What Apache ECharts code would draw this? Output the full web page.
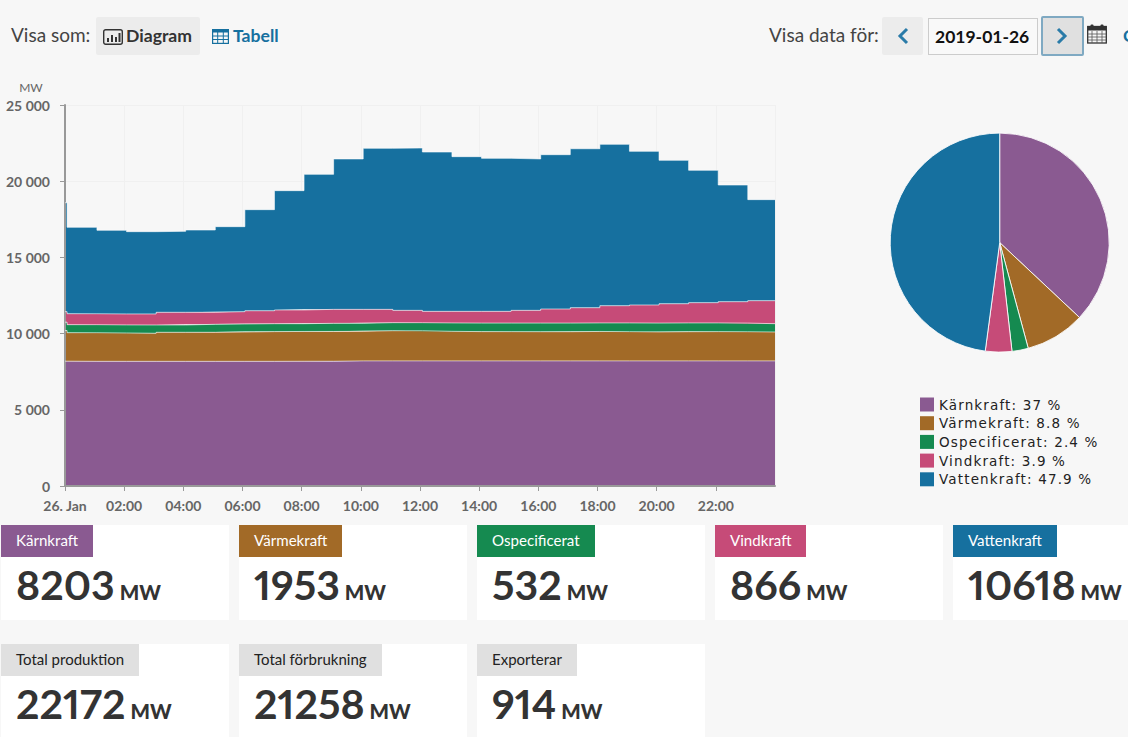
<!DOCTYPE html>
<html lang="sv">
<head>
  <meta charset="UTF-8">
  <title>Elproduktion</title>
  <script src="https://cdn.jsdelivr.net/npm/echarts@6/dist/echarts.min.js"></script>
<style>
  html, body { margin: 0; padding: 0; }
  body { width: 1128px; height: 737px; overflow: hidden; background: #f7f7f7; position: relative; font-family: Lato, sans-serif; color: #333; }
  #main { position: absolute; left: 0; top: 0; width: 1128px; height: 520px; }
  /* legendtexten är spärrad i originalet */
  #main text[style*="DejaVu"] { letter-spacing: 1.15px; }
  .abs { position: absolute; white-space: nowrap; }
  .lbl { font-size: 19px; color: #444; line-height: 24px; }
  .btn { background: #ececec; border-radius: 2px; }
  .tab { font-size: 17.6px; font-weight: 700; line-height: 24px; }
  .card { position: absolute; width: 228px; height: 95px; background: #fff; }
  .card.row2 { height: 100px; }
  .card .head { position: absolute; left: 0; top: 0; height: 32px; line-height: 31px; padding: 0 15px; color: #fff; font-size: 15.1px; white-space: nowrap; }
  .card.row2 .head { background: #e0e0e0; color: #222; font-size: 15px; }
  .card .num { position: absolute; left: 15px; top: 35px; font-size: 41px; font-weight: 700; line-height: 50px; white-space: nowrap; color: #333; font-variant-numeric: proportional-nums; font-feature-settings: "pnum"; }
  .card .num span { font-size: 20.5px; font-weight: 900; margin-left: 5px; }
</style>
</head>
<body>
<div id="main"></div>

<div class="abs lbl" style="left:11px;top:23px">Visa som:</div>
<div class="abs btn" style="left:96px;top:17px;width:104px;height:38px"></div>
<svg class="abs" style="left:103px;top:29px" width="20" height="16" viewBox="0 0 20 16">
  <rect x="0.7" y="0.7" width="18.6" height="14.6" rx="2" fill="none" stroke="#333" stroke-width="1.4"/>
  <path d="M4 13V9h2v4zM8 13V6h2v7zM12 13V8h2v5zM15.500 13V4h2v9z" fill="#333"/>
</svg>
<div class="abs tab" style="left:126px;top:24px;color:#333">Diagram</div>
<svg class="abs" style="left:212px;top:29px" width="17" height="15" viewBox="0 0 17 15">
  <rect x="0.6" y="0.6" width="15.800" height="13.800" fill="none" stroke="#16709f" stroke-width="1.2"/>
  <rect x="0" y="0" width="17" height="3.500" fill="#16709f"/>
  <path d="M0 7h17M0 10.500h17M5.700 0v15M11.300 0v15" stroke="#16709f" stroke-width="1"/>
</svg>
<div class="abs tab" style="left:233px;top:24px;color:#16709f">Tabell</div>

<div class="abs lbl" style="left:769px;top:23px">Visa data för:</div>
<div class="abs btn" style="left:882px;top:17px;width:41px;height:38px"></div>
<svg class="abs" style="left:897px;top:27px" width="12" height="18" viewBox="0 0 12 18">
  <path d="M10 2L3 9l7 7" fill="none" stroke="#2a7ba8" stroke-width="3"/>
</svg>
<div class="abs" style="left:928px;top:18px;width:102px;height:35px;padding-left:6px;border:1px solid #ccc;background:#f9f9f9;font-size:17.5px;font-weight:700;line-height:36px;color:#111">2019-01-26</div>
<div class="abs" style="left:1041px;top:16px;width:39px;height:36px;background:#e0e0e0;border:2px solid #7fa9c2;border-radius:2px"></div>
<svg class="abs" style="left:1056px;top:27px" width="12" height="18" viewBox="0 0 12 18">
  <path d="M2 2l7 7-7 7" fill="none" stroke="#2a7ba8" stroke-width="3"/>
</svg>
<svg class="abs" style="left:1087px;top:24px" width="21" height="20" viewBox="0 0 21 20">
  <rect x="0.700" y="2.500" width="18.600" height="16.500" fill="none" stroke="#333" stroke-width="1.300"/>
  <rect x="0.700" y="2.500" width="18.600" height="4" fill="#333"/>
  <rect x="3.500" y="0.500" width="3" height="4" rx="1" fill="#333"/>
  <rect x="13.500" y="0.500" width="3" height="4" rx="1" fill="#333"/>
  <path d="M1 10h18M1 13h18M1 16h18M5 7v12M10 7v12M15 7v12" stroke="#555" stroke-width="0.800"/>
</svg>
<div class="abs tab" style="left:1123px;top:24px;color:#16709f">C</div>

<div id="cards"></div>

<script>
  // tid i timmar från midnatt, värdet gäller fram till nästa tidpunkt
  const times = [0, 0.07, 1.08, 2.08, 3.08, 4.08, 5.08, 6.08, 7.08, 8.08, 9.08, 10.08, 11.08, 12.08, 13.08, 14.08, 15.08, 16.08, 17.08, 18.08, 19.08, 20.08, 21.08, 22.08, 23.08, 24]
  const karnkraft = [8190, 8180, 8180, 8180, 8180, 8180, 8180, 8180, 8185, 8185, 8210, 8210, 8210, 8210, 8210, 8210, 8210, 8210, 8210, 8210, 8210, 8210, 8210, 8210, 8210, 8210]
  const varmekraft = [2010, 1880, 1860, 1840, 1905, 1905, 1925, 1950, 1955, 1955, 1940, 1980, 1980, 1940, 1920, 1920, 1915, 1915, 1930, 1920, 1900, 1915, 1920, 1915, 1895, 1895]
  const ospecificerat = [550, 526, 530, 545, 480, 525, 525, 520, 510, 535, 525, 527, 527, 550, 560, 560, 565, 565, 560, 570, 580, 575, 570, 565, 545, 545]
  const vindkraft = [690, 720, 720, 725, 832, 787, 810, 850, 900, 915, 915, 873, 808, 760, 770, 770, 835, 924, 1000, 1130, 1187, 1260, 1330, 1403, 1510, 1510]
  const vattenkraft = [7150, 5669, 5488, 5399, 5313, 5401, 5577, 6633, 7830, 8860, 9870, 10570, 10655, 10456, 10150, 10040, 9935, 10126, 10430, 10590, 10083, 9410, 8685, 7657, 6630, 6630]

  const tickLabels = ['26. Jan', '02:00', '04:00', '06:00', '08:00', '10:00', '12:00', '14:00', '16:00', '18:00', '20:00', '22:00', '']

  const names = ['Kärnkraft', 'Värmekraft', 'Ospecificerat', 'Vindkraft', 'Vattenkraft']
  const colors = ['#8a5a91', '#a26a27', '#158a50', '#c64b78', '#16709f']
  const current = [8203, 1953, 532, 866, 10618]

  const totalNames = ['Total produktion', 'Total förbrukning', 'Exporterar']
  const totals = [22172, 21258, 914]

  const seriesValues = [karnkraft, varmekraft, ospecificerat, vindkraft, vattenkraft]
  const sum = current.reduce((a, b) => a + b, 0)

  const HOUR = 3600000
  const dayStart = Date.UTC(2019, 0, 26)

  // korten under diagrammet
  let html = ''
  names.forEach((n, i) => {
    html += '<div class="card" style="left:' + (1 + i * 238) + 'px;top:525px"><div class="head" style="background:' + colors[i] + '">' + n + '</div>'
      + '<div class="num">' + current[i] + '<span>MW</span></div></div>'
  })
  totalNames.forEach((n, i) => {
    html += '<div class="card row2" style="left:' + (1 + i * 238) + 'px;top:644px"><div class="head">' + n + '</div>'
      + '<div class="num">' + totals[i] + '<span>MW</span></div></div>'
  })
  document.getElementById('cards').innerHTML = html

  const axisText = { color: '#666', fontFamily: 'Lato', fontWeight: 700, fontSize: 14 }

  const series = names.map((n, i) => ({
    name: n,
    type: 'line',
    stack: 'prod',
    step: 'end',
    showSymbol: false,
    color: colors[i],
    areaStyle: { color: colors[i], opacity: 1 },
    lineStyle: { color: 'rgba(255,255,255,0.6)', width: 1 },
    data: times.map((t, j) => [dayStart + t * HOUR, seriesValues[i][j]])
  }))
  series.push({
    type: 'pie',
    center: [999.7, 242.6],
    radius: [0, 109.5],
    startAngle: 90,
    label: { show: false },
    labelLine: { show: false },
    silent: true,
    itemStyle: { borderColor: 'rgba(255,255,255,0.85)', borderWidth: 1 },
    data: names.map((n, i) => ({ name: n, value: current[i], itemStyle: { color: colors[i] } }))
  })

  const chart = echarts.init(document.getElementById('main'), null, { renderer: 'svg' })
  chart.setOption({
    animation: false,
    useUTC: true,
    backgroundColor: 'transparent',
    grid: { left: 65, right: 353, top: 105, bottom: 34 },
    legend: {
      data: names,
      orient: 'vertical',
      left: 920,
      top: 397.5,
      padding: 0,
      icon: 'rect',
      itemWidth: 14,
      itemHeight: 14,
      itemGap: 4.7,
      selectedMode: false,
      textStyle: { fontFamily: 'DejaVu Sans', fontSize: 13.5, color: '#222' },
      formatter: n => n + ': ' + parseFloat((current[names.indexOf(n)] / sum * 100).toFixed(1)) + ' %'
    },
    xAxis: {
      type: 'time',
      min: dayStart,
      max: dayStart + 24 * HOUR,
      // exakt 2 h ger varje timme i tidsskalan, därför lite över
      minInterval: 2.1 * HOUR,
      maxInterval: 2.1 * HOUR,
      z: 3,
      axisLine: { show: true, lineStyle: { color: '#999', width: 2 } },
      axisTick: { show: true, length: 5, lineStyle: { color: '#999' } },
      axisLabel: {
        ...axisText,
        margin: 12,
        hideOverlap: false,
        showMinLabel: true,
        formatter: v => tickLabels[Math.round((v - dayStart) / (2 * HOUR))]
      },
      splitLine: { show: true, lineStyle: { color: '#f0f0f0', width: 1 } }
    },
    yAxis: {
      type: 'value',
      min: 0,
      max: 25000,
      interval: 5000,
      name: 'MW',
      nameGap: 12,
      nameTextStyle: { color: '#666', fontFamily: 'Lato', fontSize: 12, padding: [0, 68, 0, 0] },
      z: 3,
      axisLine: { show: true, lineStyle: { color: '#999', width: 2 } },
      axisTick: { show: true, length: 5, lineStyle: { color: '#999' } },
      axisLabel: { ...axisText, margin: 15, formatter: v => String(v).replace(/\B(?=(\d{3})+$)/g, ' ') },
      splitLine: { show: true, lineStyle: { color: '#f0f0f0', width: 1 } }
    },
    series: series
  })
</script>
</body>
</html>
